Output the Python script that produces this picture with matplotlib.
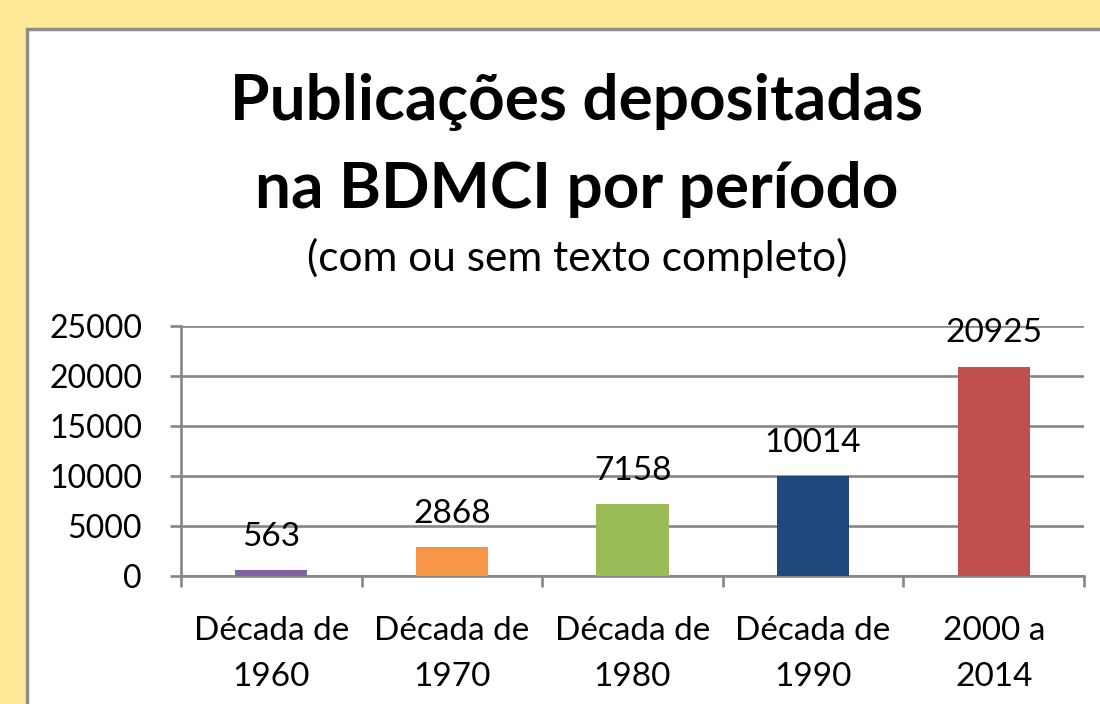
import matplotlib.pyplot as plt
import matplotlib.patches as mpatches
import numpy as np

# dados do grafico
periodos = ["Década de\n1960", "Década de\n1970", "Década de\n1980", "Década de\n1990", "2000 a\n2014"]
publicacoes = [563, 2868, 7158, 10014, 20925]
cores = ["#8064A2", "#F79646", "#9BBB59", "#1F497D", "#C0504D"]
yticks = [0, 5000, 10000, 15000, 20000, 25000]

W, H = 1100, 704
plt.rcParams['font.family'] = ['Lato', 'DejaVu Sans']
cinza = "#868686"

fig = plt.figure(figsize=(W / 100, H / 100), dpi=100)
fig.patch.set_facecolor("#FFE999")

# painel branco com borda cinza
painel = mpatches.Rectangle((27 / W, -0.1), 1.2, 1 - 29 / H + 0.1, transform=fig.transFigure,
                            facecolor="white", edgecolor="#8C8C8C", lw=2.5, zorder=-5)
fig.patches.append(painel)

ax = fig.add_axes([181 / W, (H - 576) / H, (1084 - 181) / W, 250 / H])
ax.set_facecolor("none")

x = np.arange(len(periodos))
ax.bar(x, publicacoes, width=0.4, color=cores, zorder=3)

for xi, v in zip(x, publicacoes):
    ax.annotate(str(v), (xi, v), xytext=(0, 24), textcoords="offset points",
                ha="center", va="center", fontsize=24)

ax.set_xlim(-0.5, 4.5)
ax.set_ylim(0, 25000)
ax.set_yticks(yticks)
ax.set_yticklabels([str(t) for t in yticks], fontsize=23)
ax.yaxis.grid(True, color=cinza, lw=1.9, zorder=1)

ax.set_xticks(np.arange(-0.5, 5, 1))
ax.set_xticklabels([])
ax.set_xticks(x, minor=True)
ax.set_xticklabels(periodos, minor=True, fontsize=24, linespacing=1.65)
ax.tick_params(axis="x", which="minor", length=0, pad=29)
ax.tick_params(axis="both", which="major", length=8, width=1.9, color=cinza)
ax.tick_params(axis="y", pad=20)

for s in ["top", "right"]:
    ax.spines[s].set_visible(False)
for s in ["left", "bottom"]:
    ax.spines[s].set_color(cinza)
    ax.spines[s].set_linewidth(1.9)

fig.text(577 / W, 1 - 102 / H, "Publicações depositadas", ha="center", va="center",
         fontsize=46, fontweight="bold")
fig.text(577 / W, 1 - 190 / H, "na BDMCI por período", ha="center", va="center",
         fontsize=46, fontweight="bold")
fig.text(577 / W, 1 - 258 / H, "(com ou sem texto completo)", ha="center", va="center",
         fontsize=30.5)

fig.savefig("out.png", dpi=100)
